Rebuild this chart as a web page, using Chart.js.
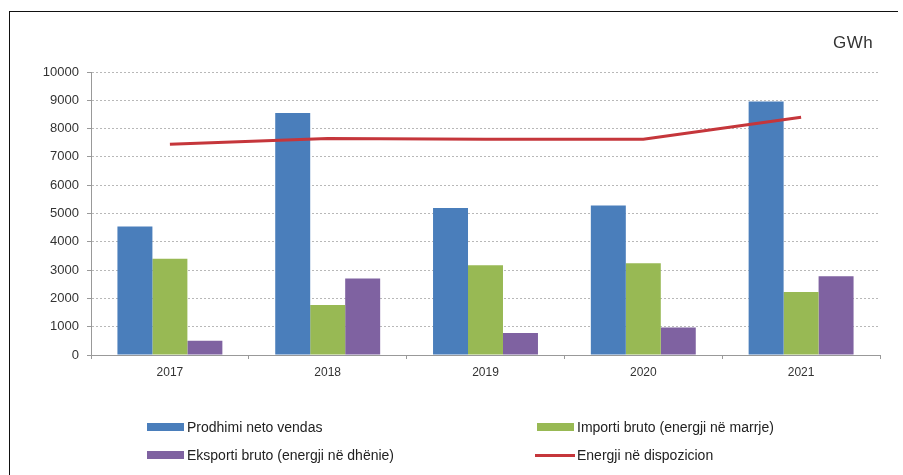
<!DOCTYPE html>
<html>
<head>
<meta charset="utf-8">
<script src="https://cdn.jsdelivr.net/npm/chart.js@4/dist/chart.umd.min.js"></script>
<style>
  html, body { margin: 0; padding: 0; background: #fff; }
  #wrap { position: relative; width: 903px; height: 475px; overflow: hidden; font-family: "Liberation Sans", Arial, sans-serif; }
  #frame { position: absolute; left: 9px; top: 11px; width: 889px; height: 480px; border-top: 1.5px solid #111; border-left: 1.5px solid #111; box-sizing: border-box; }
  #unit { position: absolute; left: 833px; top: 33px; font-size: 17px; color: #333; letter-spacing: 0.5px; }
  .lg { position: absolute; font-size: 14px; color: #222; white-space: nowrap; display: flex; align-items: center; height: 16px; }
  .sw { display: inline-block; width: 37px; height: 8px; margin-right: 3px; }
  .ln { display: inline-block; width: 40px; height: 3px; margin-right: 2px; }
  canvas { position: absolute; left: 0; top: 0; }
</style>
</head>
<body>
<div id="wrap">
  <canvas id="c" width="903" height="475"></canvas>
  <div id="frame"></div>
  <div id="unit">GWh</div>
  <div id="legend"></div>
</div>
<script>
const categories = ["2017", "2018", "2019", "2020", "2021"];
const prodhimi = [4540, 8550, 5190, 5280, 8960];
const importi = [3400, 1770, 3170, 3240, 2230];
const eksporti = [500, 2700, 780, 970, 2780];
const energji = [7450, 7650, 7620, 7620, 8400];
const seriesNames = ["Prodhimi neto vendas", "Importi bruto (energji në marrje)", "Eksporti bruto (energji në dhënie)", "Energji në dispozicion"];
const yTicks = [0, 1000, 2000, 3000, 4000, 5000, 6000, 7000, 8000, 9000, 10000];

const colors = ["#4a7ebb", "#98b954", "#7f62a1", "#c5363b"];

const ctx = document.getElementById('c');
new Chart(ctx, {
  type: 'bar',
  data: {
    labels: categories,
    datasets: [
      { label: seriesNames[0], data: prodhimi, backgroundColor: colors[0], order: 1, categoryPercentage: 0.665, barPercentage: 1.0 },
      { label: seriesNames[1], data: importi, backgroundColor: colors[1], order: 1, categoryPercentage: 0.665, barPercentage: 1.0 },
      { label: seriesNames[2], data: eksporti, backgroundColor: colors[2], order: 1, categoryPercentage: 0.665, barPercentage: 1.0 },
      { type: 'line', label: seriesNames[3], data: energji, borderColor: colors[3], borderWidth: 3, pointRadius: 0, tension: 0, fill: false, order: 0 }
    ]
  },
  options: {
    responsive: false,
    animation: false,
    layout: { padding: { left: 11, right: 23, top: 72, bottom: 0 } },
    plugins: { legend: { display: false }, tooltip: { enabled: false } },
    scales: {
      x: {
        offset: true,
        afterFit: (s) => { s.height = 120; },
        grid: { drawOnChartArea: false, drawTicks: true, tickLength: 4, offset: true, tickColor: '#999' },
        border: { color: '#999', width: 1 },
        ticks: { color: '#333', font: { family: 'Liberation Sans', size: 12 }, padding: 6 }
      },
      y: {
        min: 0, max: 10000,
        afterFit: (s) => { s.width = 80; },
        afterBuildTicks: (s) => { s.ticks = yTicks.map(v => ({ value: v })); },
        grid: { color: '#b8b8b8', lineWidth: 1, tickLength: 4, tickColor: '#999', tickBorderDash: [] },
        border: { color: '#999', width: 1, dash: [2, 2] },
        ticks: { color: '#333', font: { family: 'Liberation Sans', size: 13 }, padding: 8, callback: (v) => String(v) }
      }
    }
  }
});

// legend built from dataset names/colours
const lg = document.getElementById('legend');
const pos = [[147, 419], [537, 419], [147, 447], [535, 447]];
seriesNames.forEach((name, i) => {
  const d = document.createElement('div');
  d.className = 'lg';
  d.style.left = pos[i][0] + 'px';
  d.style.top = pos[i][1] + 'px';
  const sw = document.createElement('span');
  sw.className = i === 3 ? 'ln' : 'sw';
  sw.style.background = colors[i];
  d.appendChild(sw);
  d.appendChild(document.createTextNode(name));
  lg.appendChild(d);
});
</script>
</body>
</html>
